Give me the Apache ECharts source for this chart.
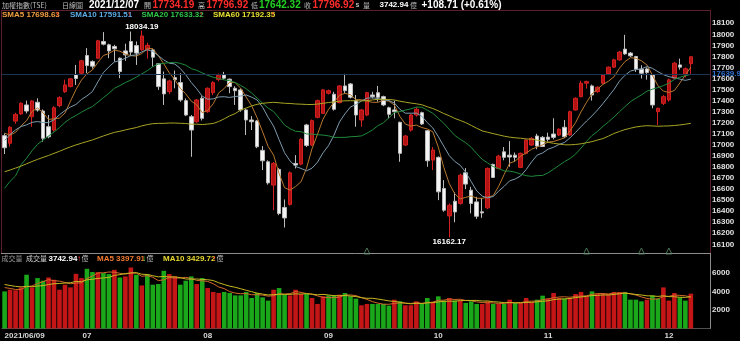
<!DOCTYPE html>
<html>
<head>
<meta charset="utf-8">
<script src="https://cdn.jsdelivr.net/npm/echarts@6/dist/echarts.min.js"></script>
<style>
html, body { margin: 0; padding: 0; background: #000; }
#main { width: 740px; height: 341px; }
</style>
</head>
<body>
<div id="main"></div>
<script>
// 交易日 (2021)
const monthDays = [
  ['06', [9,10,11,15,16,17,18,21,22,23,24,25,28,29,30]],
  ['07', [1,2,5,6,7,8,9,12,13,14,15,16,19,20,21,22,23,26,27,28,29,30]],
  ['08', [2,3,4,5,6,9,10,11,12,13,16,17,18,19,20,23,24,25,26,27,30,31]],
  ['09', [1,2,3,6,7,8,9,10,13,14,15,16,17,22,23,24,27,28,29,30]],
  ['10', [1,4,5,6,7,8,12,13,14,15,18,19,20,21,22,25,26,27,28,29]],
  ['11', [1,2,3,4,5,8,9,10,11,12,15,16,17,18,19,22,23,24,25,26,29,30]],
  ['12', [1,2,3,6,7]]
];
const dates = [];
monthDays.forEach(([m, days]) => days.forEach(d => dates.push('2021/' + m + '/' + String(d).padStart(2, '0'))));

// [開, 收, 低, 高]
const ohlc = [
  [17083,16974,16917,17104],[17014,17159,16983,17170],[17215,17275,17190,17290],[17280,17376,17270,17385],
  [17361,17306,17285,17400],[17255,17397,17164,17405],[17385,17315,17300,17421],[17306,17059,17028,17320],
  [17164,17073,17060,17270],[17134,17336,17120,17350],[17355,17427,17340,17440],[17481,17542,17470,17590],
  [17527,17597,17520,17605],[17633,17600,17542,17723],[17648,17760,17640,17770],[17808,17717,17648,17875],
  [17753,17712,17690,17765],[17784,17941,17775,17950],[17935,17911,17900,18020],[17905,17850,17784,17915],
  [17890,17869,17753,17905],[17784,17663,17603,17790],[17850,17814,17760,17915],[17935,17839,17810,18025],
  [17898,17830,17723,17935],[17860,17985,17850,18034.19],[17860,17900,17780,17925],[17859,17793,17708,17870],
  [17733,17527,17497,17740],[17597,17461,17361,17663],[17481,17578,17460,17590],[17608,17590,17512,17672],
  [17563,17406,17390,17648],[17400,17270,17260,17420],[17255,17134,16892,17270],[17209,17406,17200,17415],
  [17421,17240,17220,17440],[17300,17512,17290,17520],[17472,17563,17450,17575],[17590,17630,17575,17645],
  [17633,17603,17590,17660],[17594,17527,17467,17600],[17512,17490,17361,17530],[17497,17316,17300,17510],
  [17316,17225,17089,17330],[17225,17209,17134,17260],[17216,16983,16970,17225],[16950,16856,16772,16989],
  [16847,16656,16640,16860],[16636,16832,16409,16845],[16778,16379,16364,16790],[16434,16339,16252,16506],
  [16461,16747,16450,16760],[16832,16817,16787,16907],[16826,17050,16815,17060],[17180,16995,16980,17190],
  [16998,17219,16990,17230],[17249,17400,17240,17410],[17285,17497,17280,17505],[17467,17490,17455,17500],
  [17458,17322,17310,17480],[17382,17533,17375,17540],[17533,17490,17467,17642],[17551,17431,17420,17560],
  [17400,17270,17164,17451],[17225,17316,17164,17325],[17270,17472,17260,17480],[17451,17436,17420,17480],
  [17472,17430,17391,17533],[17436,17361,17350,17445],[17336,17276,17240,17345],[17316,17300,17240,17400],
  [17204,16923,16847,17210],[16998,17080,16990,17090],[17134,17270,17120,17280],[17270,17322,17255,17340],
  [17291,17189,17180,17300],[17128,16856,16802,17135],[16862,16953,16772,16980],[16887,16575,16500,16895],
  [16606,16409,16395,16681],[16357,16454,16162.17,16470],[16490,16393,16300,16570],[16470,16726,16460,16740],
  [16747,16645,16600,16790],[16590,16470,16380,16620],[16484,16354,16330,16530],[16394,16384,16340,16520],
  [16430,16787,16420,16795],[16823,16705,16700,16830],[16787,16898,16780,16910],[16937,16887,16860,16980],
  [16907,16890,16802,17034],[16907,16887,16850,16930],[16796,16923,16790,16930],[16923,17044,16915,17050],
  [16998,17059,16990,17070],[17080,16989,16960,17100],[17068,16985,16980,17080],[17070,17050,17030,17110],
  [17098,17068,17050,17240],[17089,17141,17080,17150],[17159,17073,17060,17225],[17089,17300,17080,17310],
  [17316,17421,17310,17430],[17436,17558,17430,17580],[17558,17572,17510,17580],[17533,17451,17400,17545],
  [17481,17521,17470,17530],[17558,17633,17550,17640],[17642,17703,17635,17710],[17703,17769,17695,17780],
  [17769,17839,17760,17850],[17866,17823,17815,17995],[17830,17805,17795,17840],[17799,17685,17660,17805],
  [17685,17648,17600,17720],[17687,17654,17590,17700],[17633,17361,17331,17640],[17300,17331,17180,17335],
  [17376,17436,17360,17450],[17406,17588,17390,17600],[17603,17739,17595,17750],[17723,17703,17680,17780],
  [17633,17688.21,17610,17700],[17734.19,17796.92,17642.32,17796.92]
];

// 成交量 (億)
const volume = [
  3990,4170,4110,4420,5780,4420,5420,5140,5490,5240,
  4170,4710,4420,5880,5420,6420,6070,6070,5960,5850,
  6310,5490,5600,6560,5780,4630,5850,4710,4780,6200,
  5850,5600,4710,5140,5600,4780,5420,4350,3930,3820,
  3930,3820,3560,3560,3930,3280,3820,3350,3000,4170,
  4350,3640,3560,4170,3710,3710,3280,2640,3460,3560,
  3560,3640,3820,3460,3210,2500,2640,
  2640,2640,2640,2460,3100,2920,2500,2500,2920,2640,
  3280,2850,3460,3000,3280,3000,3000,2750,2920,2640,
  2640,2920,2640,2640,2640,3100,2750,2750,3280,2850,
  3100,3530,3210,3820,3280,3210,3280,3710,3930,3460,
  3990,3710,3710,3710,3930,3930,3930,3100,3100,2920,
  3100,3560,3210,4420,3000,3820,3350,3000,3742.94
];

// 06/09 之前的收盤與量 (均線起算用)
const priorClose = [
  16233,16213,16317,16070,16140,16163,15982,16024,16178,16305,16292,16431,
  16572,16826,16812,16844,16854,16820,16860,16920,17076,17076,17160,17223,17082,17200,17300,17350,17450,17400,17595,17566,
  17354,17565,17350,17466,17235,17235,16583,16143,15902,16285,15353,16144,16042,16150,16302,16338,16595,16643,16601,16870,17068,
  17162,17165,17246,17147,17083,17076
];
const priorVolume = [5200,5100,4900,5300,4800,4600,4700,4400,4300];

const smaLegend = [['SMA5','17698.63'],['SMA10','17591.51'],['SMA20','17633.32'],['SMA60','17192.35']];
const volLegend = ['3742.94','3397.91','3429.72'];
const refPrice = 17639.92;
const markerIdx = [66, 106, 116, 121];

const closes = ohlc.map(d => d[1]);

function ma(series, prior, n) {
  const all = prior.concat(series);
  const off = prior.length;
  return series.map((_, i) => {
    const end = off + i;
    if (end - n + 1 < 0) return '-';
    let s = 0;
    for (let k = end - n + 1; k <= end; k++) s += all[k];
    return +(s / n).toFixed(2);
  });
}

const volUp = closes.map((c, i) => c >= (i ? closes[i - 1] : priorClose[priorClose.length - 1]));

const RED = '#ff2b2b', GREEN = '#22d022', GRAY = '#bdbdbd';
const FONT = '"Liberation Sans", Arial, sans-serif';
const CJK = '"Noto Sans CJK TC", sans-serif';

const last = ohlc[ohlc.length - 1];
const prevClose = closes[closes.length - 2];
const chg = last[1] - prevClose;

function txt(x, y, s, color, font) {
  return { type: 'text', x: x, y: y, silent: true,
    style: { text: s, fill: color, font: font, verticalAlign: 'middle' } };
}
function line(x1, y1, x2, y2, color) {
  return { type: 'line', silent: true, shape: { x1, y1, x2, y2 }, style: { stroke: color, lineWidth: 1 } };
}

const B10 = 'bold 10px ' + FONT, B8 = 'bold 8px ' + FONT, C7 = '7px ' + CJK;
const graphics = [
  line(1, 10.5, 710.5, 10.5, '#5c1f2c'),
  line(1.5, 10, 1.5, 253, '#5c1f2c'),
  line(710.5, 10, 710.5, 253, '#5c1f2c'),
  line(1, 253.5, 710.5, 253.5, '#8c8c8c'),
  line(710.5, 253, 710.5, 329, '#8c8c8c'),
  txt(2, 5, '加權指數(TSE)', GRAY, C7),
  txt(62, 5, '日線圖', GRAY, C7),
  txt(89, 5, dates[dates.length - 1], '#ffffff', B10),
  txt(144, 5, '開', GRAY, C7),
  txt(152.5, 5, last[0].toFixed(2), RED, B10),
  txt(198, 5, '高', GRAY, C7),
  txt(206.5, 5, last[3].toFixed(2), RED, B10),
  txt(251, 5, '低', GRAY, C7),
  txt(259, 5, last[2].toFixed(2), GREEN, B10),
  txt(304, 5, '收', GRAY, C7),
  txt(312.5, 5, last[1].toFixed(2), RED, B10),
  txt(355.5, 5, 's', GRAY, 'bold 7px ' + FONT),
  txt(363, 5, '量', GRAY, C7),
  txt(379.5, 5, volume[volume.length - 1].toFixed(2), '#ffffff', B8),
  txt(410, 5, '億', GRAY, C7),
  txt(421.5, 5, '+' + chg.toFixed(2) + ' (+' + (chg / prevClose * 100).toFixed(2) + '%)', '#ffffff', B10)
];

const smaColors = ['#f0a040', '#5aaee8', '#2ec84a', '#e8e030'];
const smaX = [2, 70, 141.5, 213];
smaLegend.forEach((s, k) => {
  const t = s[0] + ' ' + s[1];
  graphics.push(txt(smaX[k], 14.5, t, smaColors[k], B8));
  graphics.push(txt(smaX[k] + t.length * 4.1, 14.5, '↑', RED, B8));
});

graphics.push(txt(1.5, 258.5, '成交量', '#9a9a9a', C7));
graphics.push(txt(26, 258.5, '成交量', '#d0d0d0', C7));
graphics.push(txt(48.5, 258.5, volLegend[0], '#ffffff', B8));
graphics.push(txt(77, 258.5, '↑', RED, B8));
graphics.push(txt(81.5, 258.5, '億', GRAY, C7));
graphics.push(txt(97, 258.5, 'MA5 ' + volLegend[1], '#f07830', B8));
graphics.push(txt(142, 258.5, '↓', GREEN, B8));
graphics.push(txt(146.5, 258.5, '億', GRAY, C7));
graphics.push(txt(163, 258.5, 'MA10 ' + volLegend[2], '#e8d830', B8));
graphics.push(txt(212, 258.5, '↑', RED, B8));
graphics.push(txt(216.5, 258.5, '億', GRAY, C7));

const monthStart = i => i < dates.length && (i === 0 || dates[i].slice(5, 7) !== dates[i - 1].slice(5, 7));
const axisFont = { color: '#e0e0e0', fontSize: 8, fontWeight: 'bold', fontFamily: FONT };

const chart = echarts.init(document.getElementById('main'));
chart.setOption({
  backgroundColor: '#000',
  animation: false,
  graphic: graphics,
  grid: [
    { left: 1.85, width: 708.2, top: 12.2, height: 243.2 },
    { left: 1.85, width: 708.2, top: 254.1, height: 74.4 }
  ],
  xAxis: [
    { type: 'category', gridIndex: 0, data: dates, max: 128, boundaryGap: true,
      axisLine: { show: false }, axisTick: { show: false }, axisLabel: { show: false }, splitLine: { show: false } },
    { type: 'category', gridIndex: 1, data: dates, max: 128, boundaryGap: true,
      axisLine: { lineStyle: { color: '#505050' } },
      axisTick: { alignWithLabel: true, interval: (i) => monthStart(i), length: 4, lineStyle: { color: '#a0a0a0' } },
      axisLabel: Object.assign({ interval: (i) => monthStart(i), alignMinLabel: 'left', margin: 3,
        formatter: (v, i) => (i === 0 ? v : String(v || '').slice(5, 7)) }, axisFont, { color: '#d8d8d8' }),
      splitLine: { show: false } }
  ],
  yAxis: [
    { type: 'value', gridIndex: 0, position: 'right', min: 16000, max: 18200, interval: 100,
      axisLine: { show: false }, axisTick: { show: false }, splitLine: { show: false },
      axisLabel: Object.assign({ showMinLabel: false, showMaxLabel: false, margin: 2, formatter: v => String(v) }, axisFont) },
    { type: 'value', gridIndex: 1, position: 'right', min: 0, max: 8000, interval: 2000,
      axisLine: { show: false }, axisTick: { show: false }, splitLine: { show: false },
      axisLabel: Object.assign({ showMinLabel: false, showMaxLabel: false, margin: 2, formatter: v => String(v) }, axisFont) }
  ],
  series: [
    { type: 'candlestick', xAxisIndex: 0, yAxisIndex: 0, data: ohlc, barWidth: 4,
      itemStyle: { color: '#b31212', color0: '#f4f4f4', borderColor: '#d42020', borderColor0: '#bcbcbc', borderWidth: 1 },
      markPoint: {
        symbol: 'circle', symbolSize: 0, itemStyle: { color: 'transparent' },
        label: { color: '#ffffff', fontSize: 8, fontWeight: 'bold', fontFamily: FONT,
          formatter: p => Number(p.value).toFixed(2) },
        data: [
          { type: 'max', valueDim: 'highest', label: { position: 'top', distance: 0 } },
          { type: 'min', valueDim: 'lowest', label: { position: 'bottom', distance: 0 } }
        ]
      },
      markLine: {
        symbol: 'none', silent: true,
        lineStyle: { color: '#1d3654', type: 'solid', width: 1 },
        label: { position: 'end', distance: 2, formatter: refPrice.toFixed(2), color: '#2f6fd0',
          fontSize: 8, fontWeight: 'bold', fontFamily: FONT },
        data: [{ yAxis: refPrice }]
      }
    },
    { name: 'SMA5', type: 'line', data: ma(closes, priorClose, 5), showSymbol: false, silent: true,
      lineStyle: { width: 1, color: '#b8782e' } },
    { name: 'SMA10', type: 'line', data: ma(closes, priorClose, 10), showSymbol: false, silent: true,
      lineStyle: { width: 1, color: '#7d9cb0' } },
    { name: 'SMA20', type: 'line', data: ma(closes, priorClose, 20), showSymbol: false, silent: true,
      lineStyle: { width: 1, color: '#1f8a3a' } },
    { name: 'SMA60', type: 'line', data: ma(closes, priorClose, 60), showSymbol: false, silent: true,
      lineStyle: { width: 1, color: '#a8a424' } },
    { type: 'scatter', xAxisIndex: 0, yAxisIndex: 0, symbol: 'triangle', symbolSize: 6, silent: true,
      data: markerIdx.map(i => [i, 16040]),
      itemStyle: { color: 'transparent', borderColor: '#5e8f6c', borderWidth: 1 } },
    { type: 'bar', xAxisIndex: 1, yAxisIndex: 1, barWidth: 4.6, silent: true,
      data: volume.map((v, i) => ({ value: v, itemStyle: { color: volUp[i] ? '#c41616' : '#1aa81a' } })) },
    { type: 'line', xAxisIndex: 1, yAxisIndex: 1, data: ma(volume, priorVolume, 5), showSymbol: false, silent: true,
      lineStyle: { width: 1, color: '#d0682a' } },
    { type: 'line', xAxisIndex: 1, yAxisIndex: 1, data: ma(volume, priorVolume, 10), showSymbol: false, silent: true,
      lineStyle: { width: 1, color: '#c8b820' } }
  ]
});
</script>
</body>
</html>
